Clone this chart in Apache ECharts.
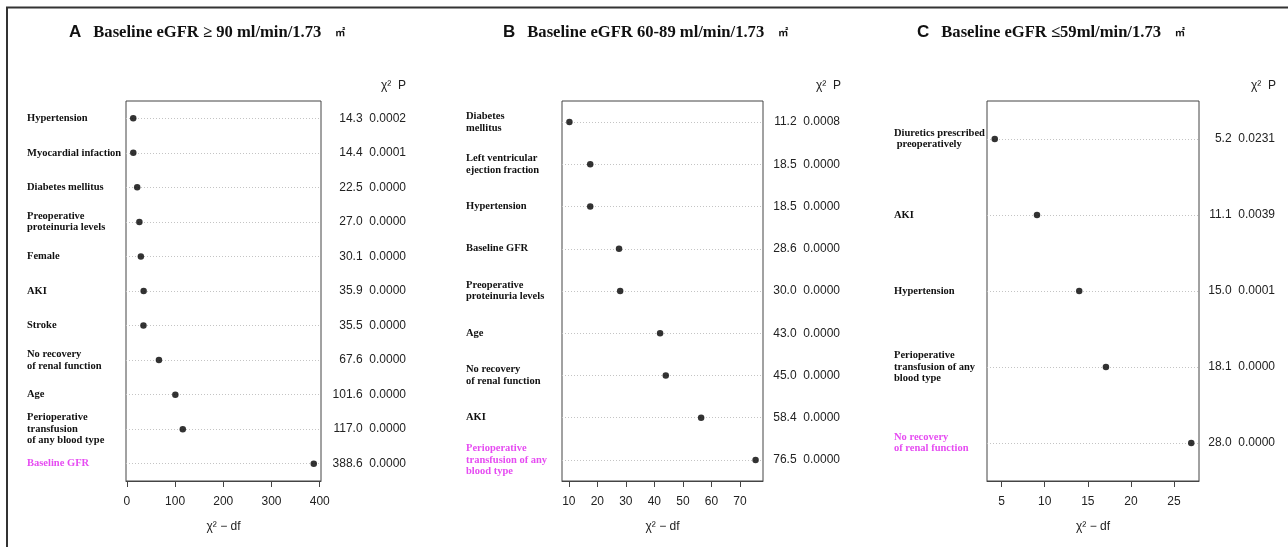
<!DOCTYPE html>
<html>
<head>
<meta charset="utf-8">
<script src="https://cdn.jsdelivr.net/npm/echarts@6/dist/echarts.min.js"></script>
<style>
  html, body { margin: 0; padding: 0; background: #fff; }
  #chart { width: 1288px; height: 547px; }
</style>
</head>
<body>
<div id="chart"></div>
<script>
// 数据：A 组 (eGFR >= 90)
const labelsA = ['Hypertension', 'Myocardial infaction', 'Diabetes mellitus', 'Preoperative\nproteinuria levels', 'Female', 'AKI', 'Stroke', 'No recovery\nof renal function', 'Age', 'Perioperative\ntransfusion\nof any blood type', 'Baseline GFR'];
const chiA = ['14.3', '14.4', '22.5', '27.0', '30.1', '35.9', '35.5', '67.6', '101.6', '117.0', '388.6'];
const pA = ['0.0002', '0.0001', '0.0000', '0.0000', '0.0000', '0.0000', '0.0000', '0.0000', '0.0000', '0.0000', '0.0000'];
const xA = [13.3, 13.4, 21.5, 26.0, 29.1, 34.9, 34.5, 66.6, 100.6, 116.0, 387.6];
const ticksA = [0, 100, 200, 300, 400];

// B 组 (eGFR 60-89)
const labelsB = ['Diabetes\nmellitus', 'Left ventricular\nejection fraction', 'Hypertension', 'Baseline GFR', 'Preoperative\nproteinuria levels', 'Age', 'No recovery\nof renal function', 'AKI', 'Perioperative\ntransfusion of any\nblood type'];
const chiB = ['11.2', '18.5', '18.5', '28.6', '30.0', '43.0', '45.0', '58.4', '76.5'];
const pB = ['0.0008', '0.0000', '0.0000', '0.0000', '0.0000', '0.0000', '0.0000', '0.0000', '0.0000'];
const xB = [10.2, 17.5, 17.5, 27.6, 28.0, 42.0, 44.0, 56.4, 75.5];
const ticksB = [10, 20, 30, 40, 50, 60, 70];

// C 组 (eGFR <= 59)
const labelsC = ['Diuretics prescribed\n preoperatively', 'AKI', 'Hypertension', 'Perioperative\ntransfusion of any\nblood type', 'No recovery\nof renal function'];
const chiC = ['5.2', '11.1', '15.0', '18.1', '28.0'];
const pC = ['0.0231', '0.0039', '0.0001', '0.0000', '0.0000'];
const xC = [4.2, 9.1, 14.0, 17.1, 27.0];
const ticksC = [5, 10, 15, 20, 25];

// 每个面板高亮的标签（洋红色）
const highlightA = 10, highlightB = 8, highlightC = 4;

const serif = 'Liberation Serif';
const sans = 'Liberation Sans';
const magenta = '#e64cf2';

const panels = [
    { labels: labelsA, chi: chiA, p: pA, x: xA, ticks: ticksA, hl: highlightA,
      grid: { left: 126, top: 101, width: 195, height: 380 }, range: [-1.7, 402.6], leftMargin: 99, rightMargin: 85 },
    { labels: labelsB, chi: chiB, p: pB, x: xB, ticks: ticksB, hl: highlightB,
      grid: { left: 562, top: 101, width: 201, height: 380 }, range: [7.6, 78.1], leftMargin: 96, rightMargin: 77 },
    { labels: labelsC, chi: chiC, p: pC, x: xC, ticks: ticksC, hl: highlightC,
      grid: { left: 987, top: 101, width: 212, height: 380 }, range: [3.3, 27.9], leftMargin: 93, rightMargin: 76 }
];

const grids = [], xAxes = [], yAxes = [], series = [];

panels.forEach(function(pn, gi) {
    grids.push(Object.assign({
        show: true,
        borderColor: '#444',
        borderWidth: 1,
        backgroundColor: 'transparent'
    }, pn.grid));

    xAxes.push({
        type: 'value',
        gridIndex: gi,
        min: pn.range[0],
        max: pn.range[1],
        splitLine: { show: false },
        axisLine: { show: true, lineStyle: { color: '#444', width: 1 } },
        axisTick: { show: true, length: 6, customValues: pn.ticks, lineStyle: { color: '#444' } },
        axisLabel: { customValues: pn.ticks, margin: 15, fontFamily: sans, fontSize: 12, color: '#222' },
        name: 'χ² − df',
        nameLocation: 'middle',
        nameGap: 40,
        nameTextStyle: { fontFamily: sans, fontSize: 12, color: '#222' }
    });

    // 左侧：变量名
    yAxes.push({
        type: 'category',
        gridIndex: gi,
        inverse: true,
        data: pn.labels,
        axisLine: { show: false },
        axisTick: { show: false },
        splitLine: { show: false },
        axisLabel: {
            align: 'left',
            margin: pn.leftMargin,
            fontFamily: serif,
            fontWeight: 'bold',
            fontSize: 10.5,
            lineHeight: 11.5,
            color: '#111',
            formatter: function(v, i) {
                return i === pn.hl ? '{hl|' + v.split('\n').join('}\n{hl|') + '}' : v;
            },
            rich: {
                hl: { fontFamily: serif, fontWeight: 'bold', fontSize: 10.5, lineHeight: 11.5, color: magenta }
            }
        }
    });

    // 右侧：χ² 和 P 值
    yAxes.push({
        type: 'category',
        gridIndex: gi,
        inverse: true,
        position: 'right',
        data: pn.labels,
        axisLine: { show: false },
        axisTick: { show: false },
        splitLine: { show: false },
        axisLabel: {
            align: 'right',
            margin: pn.rightMargin,
            fontFamily: sans,
            fontSize: 12,
            color: '#222',
            formatter: function(v, i) {
                return pn.chi[i] + '  ' + pn.p[i];
            }
        }
    });

    series.push({
        type: 'scatter',
        xAxisIndex: gi,
        yAxisIndex: gi * 2,
        symbol: 'circle',
        symbolSize: 6.5,
        itemStyle: { color: '#000' },
        data: pn.x.map(function(v, i) { return [v, i]; }),
        z: 5,
        markLine: {
            silent: true,
            symbol: ['none', 'none'],
            label: { show: false },
            lineStyle: { color: '#c4c4c4', type: [1, 2], width: 1 },
            animation: false,
            data: pn.labels.map(function(l, i) { return { yAxis: i }; })
        }
    });
});

function panelTitle(letter, text, left) {
    return {
        left: left,
        top: 24,
        padding: 0,
        text: '{l|' + letter + '}{t|' + text + '}{u|㎡}',
        textStyle: {
            rich: {
                l: { fontFamily: sans, fontWeight: 'bold', fontSize: 17, color: '#111', padding: [0, 12, 0, 0] },
                t: { fontFamily: serif, fontWeight: 'bold', fontSize: 16.6, color: '#111', padding: [0, 14, 0, 0] },
                u: { fontFamily: 'Noto Sans CJK SC', fontSize: 10, color: '#111' }
            }
        }
    };
}

function headerTitle(left) {
    return {
        left: left,
        top: 80,
        padding: 0,
        text: 'χ²  P',
        textStyle: { fontFamily: sans, fontSize: 12, fontWeight: 'normal', color: '#222' }
    };
}

const chart = echarts.init(document.getElementById('chart'));
chart.setOption({
    animation: false,
    backgroundColor: '#fff',
    title: [
        panelTitle('A', 'Baseline eGFR ≥ 90 ml/min/1.73', 69),
        panelTitle('B', 'Baseline eGFR 60-89 ml/min/1.73', 503),
        panelTitle('C', 'Baseline eGFR ≤59ml/min/1.73', 917),
        headerTitle(381),
        headerTitle(816),
        headerTitle(1251)
    ],
    grid: grids,
    xAxis: xAxes,
    yAxis: yAxes,
    series: series,
    graphic: [
        { type: 'line', shape: { x1: 6, y1: 7.5, x2: 1288, y2: 7.5 }, style: { stroke: '#333', lineWidth: 2 } },
        { type: 'line', shape: { x1: 7, y1: 7, x2: 7, y2: 547 }, style: { stroke: '#333', lineWidth: 2 } }
    ]
});
</script>
</body>
</html>
